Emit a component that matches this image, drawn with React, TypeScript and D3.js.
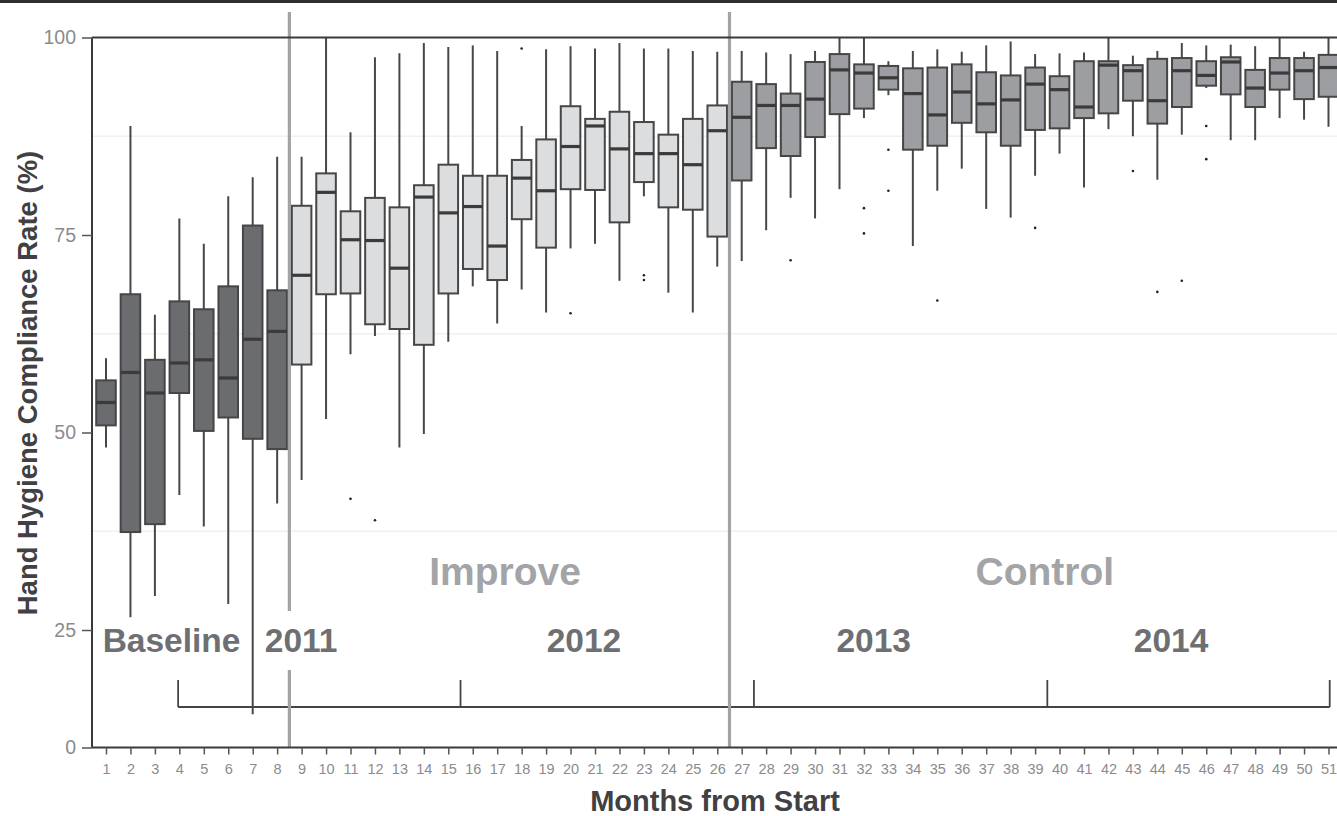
import React, { useRef, useEffect } from "react";
import * as d3 from "d3";

const W = 1337;
const H = 816;
const FONT = "'Liberation Sans', Arial, Helvetica, sans-serif";

// months from start
const months = [
  1, 2, 3, 4, 5, 6, 7, 8, 9, 10, 11, 12, 13, 14, 15, 16, 17, 18, 19, 20, 21,
  22, 23, 24, 25, 26, 27, 28, 29, 30, 31, 32, 33, 34, 35, 36, 37, 38, 39, 40,
  41, 42, 43, 44, 45, 46, 47, 48, 49, 50, 51,
];

// box plot stats per month (compliance %)
const whiskerLow = [
  48.1, 26.6, 29.3, 42.1, 38.1, 28.3, 7.1, 41.0, 44.0, 51.7, 59.9, 62.2, 48.1,
  49.8, 61.5, 68.5, 63.8, 68.1, 65.2, 73.3, 73.9, 69.2, 79.9, 67.7, 65.2, 71.0,
  71.7, 75.6, 79.7, 77.1, 80.8, 89.8, 92.7, 73.6, 80.6, 83.4, 78.3, 77.2, 82.5,
  85.3, 81.0, 88.4, 87.5, 82.0, 87.7, 93.6, 87.0, 87.0, 89.8, 89.6, 88.7,
];
const q1 = [
  50.9, 37.4, 38.4, 55.0, 50.2, 51.9, 49.2, 47.9, 58.6, 67.5, 67.6, 63.7, 63.1,
  61.1, 67.6, 70.7, 69.3, 77.0, 73.4, 80.8, 80.7, 76.6, 81.7, 78.5, 78.2, 74.8,
  81.9, 86.0, 85.0, 87.4, 90.3, 91.0, 93.4, 85.8, 86.3, 89.2, 88.0, 86.3, 88.3,
  88.5, 89.8, 90.4, 92.0, 89.1, 91.2, 93.9, 92.8, 91.2, 93.4, 92.2, 92.5,
];
const median = [
  53.8, 57.6, 55.0, 58.8, 59.2, 56.9, 61.8, 62.8, 69.9, 80.4, 74.4, 74.3, 70.8,
  79.8, 77.8, 78.6, 73.6, 82.2, 80.6, 86.2, 88.8, 85.9, 85.3, 85.3, 83.9, 88.2,
  89.9, 91.4, 91.4, 92.2, 95.9, 95.5, 94.9, 92.9, 90.2, 93.1, 91.6, 92.1, 94.1,
  93.4, 91.2, 96.5, 95.8, 92.0, 95.8, 95.2, 96.9, 93.6, 95.5, 95.8, 96.2,
];
const q3 = [
  56.6, 67.5, 59.2, 66.6, 65.6, 68.5, 76.2, 68.0, 78.7, 82.8, 78.0, 79.7, 78.5,
  81.3, 83.9, 82.5, 82.5, 84.5, 87.1, 91.3, 89.7, 90.6, 89.3, 87.7, 89.7, 91.4,
  94.4, 94.1, 92.9, 96.9, 97.9, 96.6, 96.4, 96.1, 96.2, 96.6, 95.6, 95.2, 96.2,
  95.1, 97.0, 97.0, 96.5, 97.3, 97.4, 97.0, 97.5, 95.9, 97.4, 97.4, 97.8,
];
const whiskerHigh = [
  59.4, 88.8, 64.9, 77.1, 73.9, 79.9, 82.3, 84.9, 84.9, 100, 88.0, 97.5, 98.0,
  99.3, 98.8, 99.0, 98.3, 88.8, 98.5, 98.9, 98.6, 99.3, 98.6, 98.6, 98.3, 98.2,
  98.3, 98.1, 97.9, 98.3, 100, 100, 97.0, 98.3, 98.5, 98.2, 99.0, 99.5, 97.9,
  98.0, 98.1, 100, 97.7, 98.3, 99.3, 99.0, 99.1, 98.9, 100, 98.2, 100,
];
// [month, value]
const outliers = [
  [11, 41.6], [12, 38.9], [18, 98.6], [20, 65.1], [23, 69.9], [23, 69.3],
  [29, 71.8], [32, 78.4], [32, 75.2], [33, 85.8], [33, 80.6], [35, 66.7],
  [39, 75.9], [43, 83.1], [44, 67.8], [45, 69.2], [46, 88.8], [46, 84.6],
];

// phases: Baseline (1-8), Improve (9-26), Control (27-51)
const phaseBreaks = [8.5, 26.5];
const phaseColors = ["#6b6c6f", "#dcdddf", "#9d9ea2"];
const phaseNames = ["Improve", "Control"];
const phaseNamePos = [17.32, 39.4];

const yearLabels = ["Baseline", "2011", "2012", "2013", "2014"];
const yearLabelPos = [3.68, 8.98, 20.55, 32.4, 44.56];
const bracketTicks = [3.95, 15.5, 27.5, 39.5, 51.05];

const yTicks = [0, 25, 50, 75, 100];
const gridValues = [37.5, 62.5, 87.5];

const phaseOf = (m) => (m < phaseBreaks[0] ? 0 : m < phaseBreaks[1] ? 1 : 2);

export default function App() {
  const ref = useRef<SVGSVGElement>(null);

  useEffect(() => {
    const svg = d3.select(ref.current);
    svg.selectAll("*").remove();

    const plotLeft = 92;
    const plotRight = W;
    const x = d3.scaleLinear().domain([1, 51]).range([106, 1328.5]);
    // axis is compressed below 25
    const y = d3.scaleLinear().domain([0, 25, 100]).range([747.5, 630, 37.5]);
    const step = x(2) - x(1);
    const boxW = step * 0.8;

    // top border of figure
    svg.append("rect")
      .attr("x", 0).attr("y", 0).attr("width", W).attr("height", 3)
      .attr("fill", "#2f2f2f");

    // faint grid
    svg.append("g").selectAll("line").data(gridValues).join("line")
      .attr("x1", plotLeft).attr("x2", plotRight)
      .attr("y1", (d) => y(d)).attr("y2", (d) => y(d))
      .attr("stroke", "#f0f0f0").attr("stroke-width", 1.5);

    // phase names
    svg.append("g").selectAll("text").data(phaseNames).join("text")
      .attr("x", (d, i) => x(phaseNamePos[i]))
      .attr("y", 585)
      .attr("text-anchor", "middle")
      .attr("font-family", FONT).attr("font-weight", "bold")
      .attr("font-size", 39).attr("fill", "#a3a4a7")
      .text((d) => d);

    // year labels
    const yearY = 652;
    svg.append("g").selectAll("text").data(yearLabels).join("text")
      .attr("x", (d, i) => x(yearLabelPos[i]))
      .attr("y", yearY)
      .attr("text-anchor", "middle")
      .attr("font-family", FONT).attr("font-weight", "bold")
      .attr("font-size", 33.5).attr("fill", "#6e6f72")
      .text((d) => d);

    // year bracket
    const bY = 707;
    const br = svg.append("g").attr("stroke", "#444").attr("stroke-width", 1.8);
    br.append("line")
      .attr("x1", x(bracketTicks[0])).attr("x2", x(bracketTicks[bracketTicks.length - 1]))
      .attr("y1", bY).attr("y2", bY);
    br.selectAll("line.t").data(bracketTicks).join("line")
      .attr("class", "t")
      .attr("x1", (d) => x(d)).attr("x2", (d) => x(d))
      .attr("y1", bY).attr("y2", bY - 27);

    // boxes
    const boxes = svg.append("g").selectAll("g").data(months).join("g");
    boxes.append("line")
      .attr("x1", (m) => x(m)).attr("x2", (m) => x(m))
      .attr("y1", (m, i) => y(whiskerLow[i])).attr("y2", (m, i) => y(whiskerHigh[i]))
      .attr("stroke", "#474747").attr("stroke-width", 2);
    boxes.append("rect")
      .attr("x", (m) => x(m) - boxW / 2).attr("width", boxW)
      .attr("y", (m, i) => y(q3[i]))
      .attr("height", (m, i) => y(q1[i]) - y(q3[i]))
      .attr("fill", (m) => phaseColors[phaseOf(m)])
      .attr("stroke", "#464646").attr("stroke-width", 2);
    boxes.append("line")
      .attr("x1", (m) => x(m) - boxW / 2).attr("x2", (m) => x(m) + boxW / 2)
      .attr("y1", (m, i) => y(median[i])).attr("y2", (m, i) => y(median[i]))
      .attr("stroke", "#3b3b3b").attr("stroke-width", 3.2);

    // outliers
    svg.append("g").selectAll("circle").data(outliers).join("circle")
      .attr("cx", (d) => x(d[0])).attr("cy", (d) => y(d[1]))
      .attr("r", 1.3).attr("fill", "#222");

    // phase separators (first one broken around "2011")
    const sep = svg.append("g").attr("stroke", "#a2a3a6").attr("stroke-width", 3.2);
    sep.append("line")
      .attr("x1", x(phaseBreaks[0])).attr("x2", x(phaseBreaks[0]))
      .attr("y1", y(100) - 25.5).attr("y2", yearY - 41);
    sep.append("line")
      .attr("x1", x(phaseBreaks[0])).attr("x2", x(phaseBreaks[0]))
      .attr("y1", yearY + 18).attr("y2", y(0));
    sep.append("line")
      .attr("x1", x(phaseBreaks[1])).attr("x2", x(phaseBreaks[1]))
      .attr("y1", y(100) - 25.5).attr("y2", y(0));

    // frame lines
    const fr = svg.append("g").attr("stroke", "#3a3a3a").attr("stroke-width", 2);
    fr.append("line").attr("x1", plotLeft).attr("x2", plotRight).attr("y1", y(100)).attr("y2", y(100));
    fr.append("line").attr("x1", plotLeft).attr("x2", plotLeft).attr("y1", y(100)).attr("y2", y(0));
    fr.append("line").attr("x1", plotLeft).attr("x2", plotRight).attr("y1", y(0)).attr("y2", y(0));

    // y axis
    const yAxis = svg.append("g")
      .attr("transform", `translate(${plotLeft},0)`)
      .call(d3.axisLeft(y).tickValues(yTicks).tickSize(10).tickPadding(6).tickSizeOuter(0));
    yAxis.select(".domain").remove();
    yAxis.attr("font-family", FONT).attr("font-size", 19.5);
    yAxis.selectAll("line").attr("stroke", "#555").attr("stroke-width", 1.5);
    yAxis.selectAll("text").attr("fill", "#8b8b8e");

    // x axis
    const xAxis = svg.append("g")
      .attr("transform", `translate(0,${y(0)})`)
      .call(d3.axisBottom(x).tickValues(months).tickFormat(d3.format("d")).tickSize(7).tickPadding(9).tickSizeOuter(0));
    xAxis.select(".domain").remove();
    xAxis.attr("font-family", FONT).attr("font-size", 14.5);
    xAxis.selectAll("line").attr("stroke", "#555").attr("stroke-width", 1.5);
    xAxis.selectAll("text").attr("fill", "#8b8b8e");

    // axis titles
    svg.append("text")
      .attr("transform", "rotate(-90)")
      .attr("x", -383).attr("y", 37)
      .attr("text-anchor", "middle")
      .attr("font-family", FONT).attr("font-weight", "bold")
      .attr("font-size", 27.5).attr("fill", "#414042")
      .text("Hand Hygiene Compliance Rate (%)");
    svg.append("text")
      .attr("x", 715).attr("y", 811)
      .attr("text-anchor", "middle")
      .attr("font-family", FONT).attr("font-weight", "bold")
      .attr("font-size", 29).attr("fill", "#414042")
      .text("Months from Start");
  }, []);

  return (
    <svg
      ref={ref}
      width={W}
      height={H}
      style={{ position: "absolute", left: 0, top: 0, background: "#fff", display: "block" }}
    />
  );
}
